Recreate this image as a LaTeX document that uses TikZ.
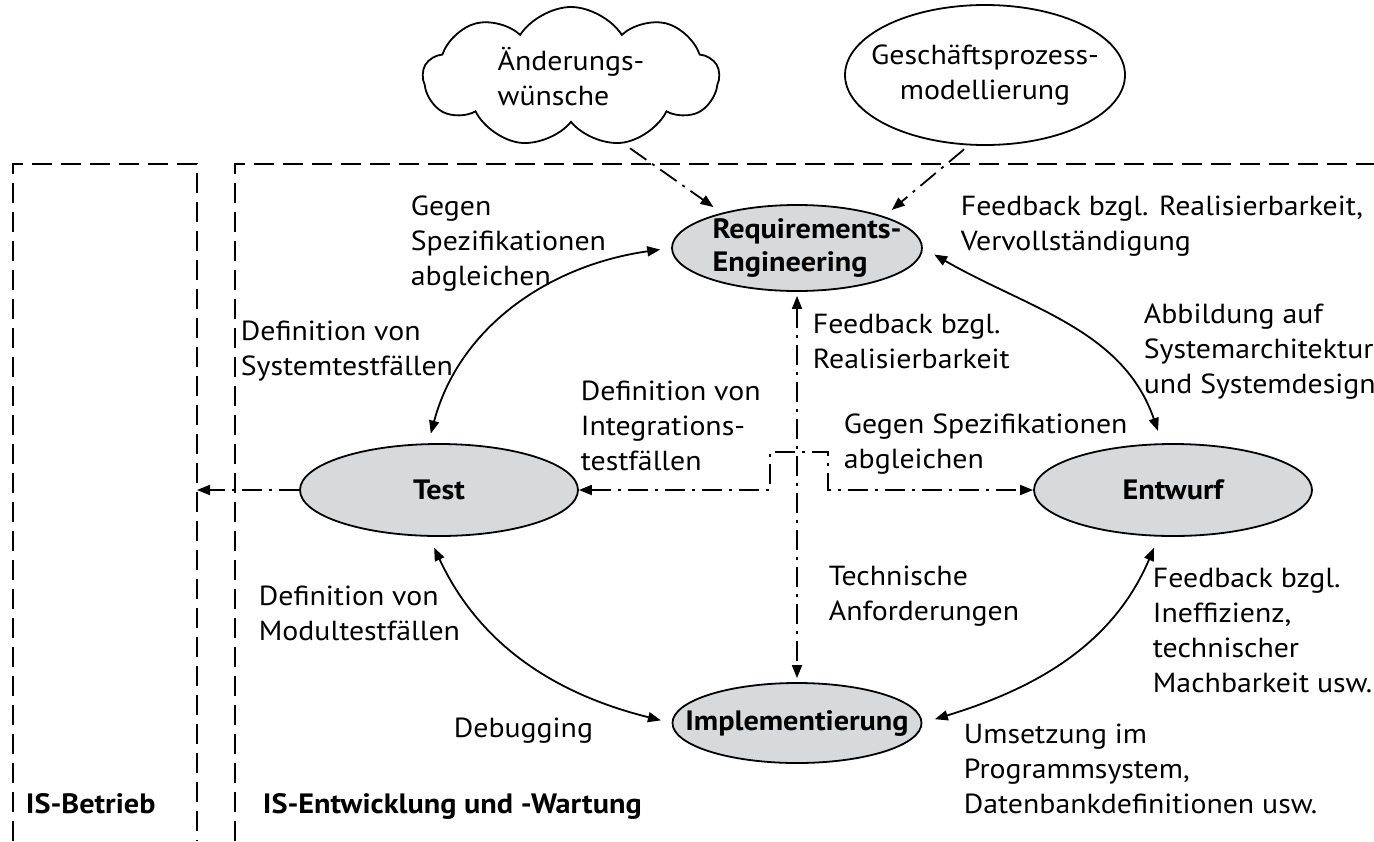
\documentclass[tikz,border=0pt]{standalone}
\usepackage{fontspec}
\setmainfont{PT Sans}[FakeStretch=1.08]
\usetikzlibrary{shapes.geometric,shapes.symbols,arrows.meta}
\definecolor{procfill}{RGB}{216,217,219}

\begin{document}
\begin{tikzpicture}[x=0.5pt,y=0.5pt,line width=0.9pt,
  proc/.style={ellipse,draw,fill=procfill,inner sep=0pt},
  title/.style={font=\fontsize{14}{16.5}\selectfont\bfseries,align=left,inner sep=0pt},
  note/.style={font=\fontsize{13.8}{17.5}\selectfont,align=left,inner sep=0pt,anchor=north west},
  frame/.style={dash pattern=on 10pt off 4.5pt},
  flowline/.style={dash pattern=on 10pt off 3.5pt on 1.5pt off 3.5pt},
  headend/.style={-{Triangle[length=6.5pt,width=5pt]}},
  headboth/.style={{Triangle[length=6.5pt,width=5pt]}-{Triangle[length=6.5pt,width=5pt]}},
]
\useasboundingbox (0,0) rectangle (1374,-841);

% dashed area frames
\draw[frame] (13,-841) -- (13,-164) -- (197,-164) -- (197,-841);
\draw[frame] (235,-841) -- (235,-164) -- (1374,-164);
\coordinate (opsedge) at (197,-164);
\node[title,anchor=base west] (opslabel) at (25,-813) {IS-Betrieb};
\node[title,anchor=base west] (devlabel) at (262,-813) {IS-Entwicklung und -Wartung};

% sources of requirements
\node[cloud,cloud puffs=9,cloud puff arc=115,cloud ignores aspect,draw,inner sep=0pt,
  minimum width=148pt,minimum height=70pt,
  label={[note,anchor=center]center:{Änderungs-\\wünsche}}] (wish) at (571,-77) {};
\node[ellipse,draw,inner sep=0pt,minimum width=140pt,minimum height=70pt,
  label={[note,align=center,anchor=center]center:{Geschäftsprozess-\\modellierung}}] (bpm) at (985,-75) {};

% development phases
\node[proc,minimum width=125pt,minimum height=43pt,
  label={[title,xshift=5pt]center:{Requirements-\\Engineering}}] (re) at (797,-248) {};
\node[proc,minimum width=139pt,minimum height=46pt,label={[title]center:Test}] (test) at (439,-490) {};
\node[proc,minimum width=139pt,minimum height=46pt,label={[title]center:Entwurf}] (design) at (1173,-490) {};
\node[proc,minimum width=124.5pt,minimum height=40pt,label={[title]center:Implementierung}] (impl) at (797,-723) {};

% cycle of solid feedback arrows
\draw[headboth,shorten <=5pt,shorten >=5.5pt] (test.103) to[out=75,in=188] (re.west);
\draw[headboth,shorten <=6.5pt,shorten >=6.5pt] (re.east) to[out=-30,in=109] (design.103);
\draw[headboth,shorten <=6pt,shorten >=5.5pt] (test.-102) to[out=-65,in=166] (impl.west);
\draw[headboth,shorten <=6pt,shorten >=6.5pt] (design.-107) to[out=-113,in=17] (impl.east);

% dash-dotted information flows
\draw[flowline,headend,shorten >=5pt] ([xshift=29.5pt,yshift=-12.5pt]wish.south) -- (re.155);
\draw[flowline,headend,shorten <=3pt,shorten >=5pt] (bpm.-103) -- (re.20);
\draw[flowline,headboth,shorten <=2pt,shorten >=2pt] (re.south) -- (impl.north);
\coordinate (hopL) at (770,-452);
\coordinate (hopR) at (828,-452);
\draw[flowline,headboth] (test.east) -- (test.east -| hopL) -- (hopL) -- (hopR) -- (hopR |- design.west) -- (design.west);
\draw[flowline,headend] (test.west) -- (test.west -| opsedge);

% annotations
\node[note] (n1) at (410,-195) {Gegen\\Spezifikationen\\abgleichen};
\node[note] (n2) at (960,-195) {Feedback bzgl. Realisierbarkeit,\\Vervollständigung};
\node[note] (n3) at (240,-320) {Definition von\\Systemtestfällen};
\node[note] (n4) at (812,-313) {Feedback bzgl.\\Realisierbarkeit};
\node[note] (n5) at (1143,-303) {Abbildung auf\\Systemarchitektur\\und Systemdesign};
\node[note] (n6) at (580,-380) {Definition von\\Integrations-\\testfällen};
\node[note] (n7) at (843,-413) {Gegen Spezifikationen\\abgleichen};
\node[note] (n8) at (258,-585) {Definition von\\Modultestfällen};
\node[note] (n9) at (828,-565) {Technische\\Anforderungen};
\node[note] (n10) at (1152,-567) {Feedback bzgl.\\Ineffizienz,\\technischer\\Machbarkeit usw.};
\node[note] (n11) at (453,-717) {Debugging};
\node[note] (n12) at (963,-723) {Umsetzung im\\Programmsystem,\\Datenbankdefinitionen usw.};
\end{tikzpicture}
\end{document}
